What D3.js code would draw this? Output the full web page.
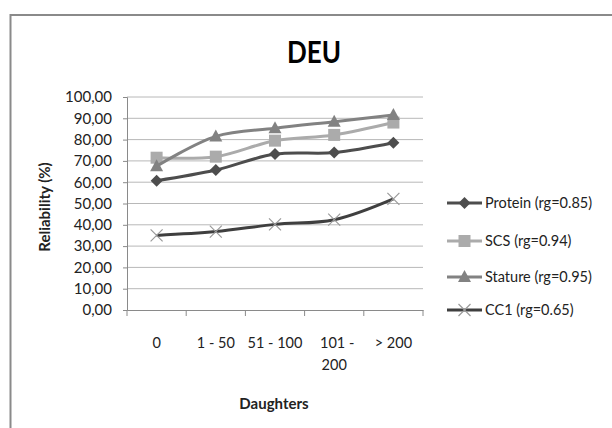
<!DOCTYPE html>
<html><head><meta charset="utf-8">
<script src="https://cdn.jsdelivr.net/npm/d3@7"></script>
<style>body{margin:0;background:#fff;} svg{display:block;}</style>
</head><body>
<svg id="c" width="612" height="428"></svg>
<script>
const categories = ["0", "1 - 50", "51 - 100", "101 - 200", "> 200"];
const protein = [60.7, 65.7, 73.2, 73.9, 78.5];
const scs     = [71.5, 72.0, 79.5, 82.2, 88.0];
const stature = [67.5, 81.5, 85.3, 88.4, 91.5];
const cc1     = [35.0, 36.8, 40.2, 42.4, 52.2];
const yTicks = [0, 10, 20, 30, 40, 50, 60, 70, 80, 90, 100];
const seriesNames = ["Protein (rg=0.85)", "SCS (rg=0.94)", "Stature (rg=0.95)", "CC1 (rg=0.65)"];

const series = [
  {name: seriesNames[0], values: protein, color: "#4d4d4d", marker: "diamond"},
  {name: seriesNames[1], values: scs, color: "#ababab", marker: "square"},
  {name: seriesNames[2], values: stature, color: "#828282", marker: "triangle"},
  {name: seriesNames[3], values: cc1, color: "#3f3f3f", marker: "x"}
];

const font = "Lato, 'Open Sans', sans-serif";
const svg = d3.select("#c");
// frame
svg.append("path").attr("d", "M10.5,430 L10.5,15 L614,15").attr("fill", "none")
  .attr("stroke", "#8a8a8a").attr("stroke-width", 2);

const L = 127, R = 423, T = 97, B = 310;
const x = d3.scaleBand().domain(categories).range([L, R]);
const y = d3.scaleLinear().domain([0, 100]).range([B, T]);

// gridlines
svg.append("g").selectAll("line").data(yTicks.filter(d => d > 0)).join("line")
  .attr("x1", L).attr("x2", R).attr("y1", d => y(d)).attr("y2", d => y(d))
  .attr("stroke", "#b8b8b8").attr("stroke-width", 1);

// y axis
const ya = svg.append("g").attr("transform", `translate(${L},0)`)
  .call(d3.axisLeft(y).tickValues(yTicks).tickSize(4).tickPadding(11)
    .tickFormat(d => d3.format(".2f")(d).replace(".", ",")));
ya.select(".domain").attr("stroke", "#8a8a8a");
ya.selectAll(".tick line").attr("stroke", "#8a8a8a");
ya.selectAll("text").attr("font-family", font).attr("font-size", 15).attr("fill", "#222");

// x axis
const xa = svg.append("g").attr("transform", `translate(0,${B})`)
  .call(d3.axisBottom(x).tickSize(0).tickFormat(""));
xa.select(".domain").attr("stroke", "#8a8a8a");
const bounds = categories.map(c => x(c)).concat([R]);
svg.append("g").selectAll("line").data(bounds).join("line")
  .attr("x1", d => d).attr("x2", d => d).attr("y1", B).attr("y2", B + 6)
  .attr("stroke", "#8a8a8a");

// x labels
const xl = svg.append("g").selectAll("text").data(categories).join("text")
  .attr("x", d => x(d) + x.bandwidth() / 2).attr("y", 348)
  .attr("text-anchor", "middle").attr("font-family", font).attr("font-size", 14.5).attr("fill", "#222");
xl.each(function(d) {
  const t = d3.select(this);
  if (d === "101 - 200") {
    t.append("tspan").attr("x", x(d) + x.bandwidth() / 2 + 3).text("101 -");
    t.append("tspan").attr("x", x(d) + x.bandwidth() / 2).attr("dy", 22).text("200");
  } else t.text(d);
});

// titles
svg.append("text").attr("x", 314).attr("y", 63).attr("text-anchor", "middle")
  .attr("font-family", font).attr("font-weight", "bold").attr("font-size", 30)
  .attr("textLength", 54).attr("lengthAdjust", "spacingAndGlyphs")
  .attr("fill", "#000").text("DEU");
svg.append("text").attr("transform", "translate(50,207) rotate(-90)").attr("text-anchor", "middle")
  .attr("font-family", font).attr("font-weight", "bold").attr("font-size", 15).attr("fill", "#222").text("Reliability (%)");
svg.append("text").attr("x", 274).attr("y", 409).attr("text-anchor", "middle")
  .attr("font-family", font).attr("font-weight", "bold").attr("font-size", 15).attr("fill", "#222").text("Daughters");

const line = d3.line().x((d, i) => x(categories[i]) + x.bandwidth() / 2).y(d => y(d))
  .curve(d3.curveCatmullRom.alpha(0.5));

function marker(g, type, color, cx, cy) {
  if (type === "diamond") {
    g.append("path").attr("d", `M${cx},${cy-6}L${cx+6},${cy}L${cx},${cy+6}L${cx-6},${cy}Z`).attr("fill", color);
  } else if (type === "square") {
    g.append("rect").attr("x", cx - 6).attr("y", cy - 6).attr("width", 12).attr("height", 12).attr("fill", color);
  } else if (type === "triangle") {
    g.append("path").attr("d", `M${cx},${cy-7}L${cx+6.5},${cy+5}L${cx-6.5},${cy+5}Z`).attr("fill", color);
  } else {
    g.append("path").attr("d", `M${cx-6},${cy-6}L${cx+6},${cy+6}M${cx+6},${cy-6}L${cx-6},${cy+6}`)
      .attr("stroke", "#9a9a9a").attr("stroke-width", 1.2);
  }
}

const order = [3, 0, 1, 2];
order.forEach(i => {
  const s = series[i];
  const g = svg.append("g");
  g.append("path").attr("d", line(s.values)).attr("fill", "none")
    .attr("stroke", s.color).attr("stroke-width", 3);
  s.values.forEach((v, j) => marker(g, s.marker, s.color, x(categories[j]) + x.bandwidth() / 2, y(v)));
});

// legend
const ly = [203, 241, 277, 310];
series.forEach((s, i) => {
  const g = svg.append("g");
  g.append("line").attr("x1", 447).attr("x2", 482).attr("y1", ly[i]).attr("y2", ly[i])
    .attr("stroke", s.color).attr("stroke-width", 3);
  marker(g, s.marker, s.color, 464.5, ly[i]);
  g.append("text").attr("x", 485).attr("y", ly[i] + 5).attr("font-family", font).attr("font-size", 14.5)
    .attr("fill", "#222").text(s.name);
});
</script>
</body></html>
